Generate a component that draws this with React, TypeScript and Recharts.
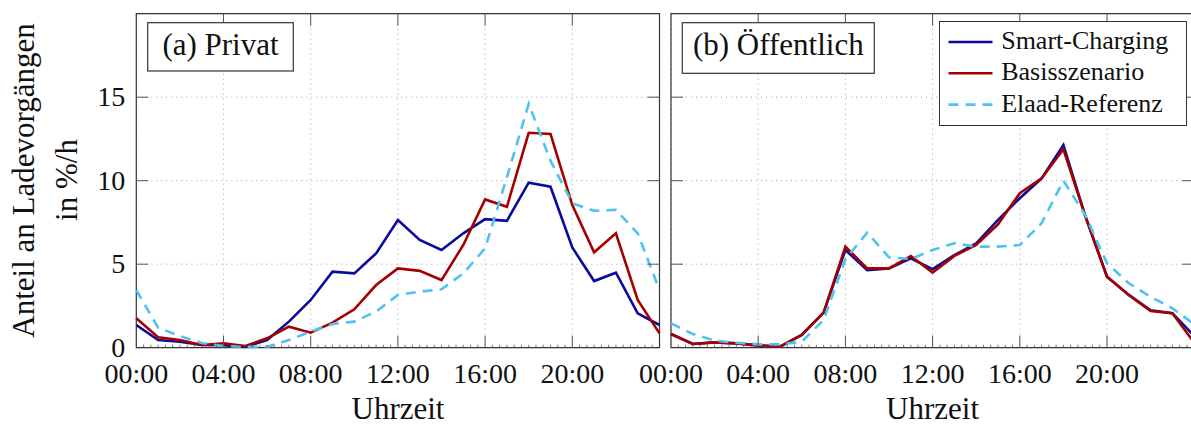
import React from 'react';
import { LineChart, Line, XAxis, YAxis, CartesianGrid, ReferenceArea, Legend } from 'recharts';

// hourly values, 00:00 .. 24:00
const hours = [0, 1, 2, 3, 4, 5, 6, 7, 8, 9, 10, 11, 12, 13, 14, 15, 16, 17, 18, 19, 20, 21, 22, 23, 24];

const smartPrivat = [1.36, 0.46, 0.36, 0.16, 0.15, 0.05, 0.46, 1.56, 2.86, 4.55, 4.45, 5.65, 7.65, 6.45, 5.85, 6.85, 7.7, 7.6, 9.88, 9.64, 6.0, 3.99, 4.49, 2.06, 1.36];
const basisPrivat = [1.76, 0.62, 0.46, 0.16, 0.26, 0.1, 0.56, 1.26, 0.9, 1.5, 2.3, 3.75, 4.75, 4.6, 4.05, 6.15, 8.88, 8.44, 12.87, 12.8, 8.54, 5.71, 6.85, 2.86, 0.86];
const elaadPrivat = [3.45, 1.2, 0.7, 0.28, 0.1, 0.05, 0.05, 0.46, 0.96, 1.42, 1.56, 2.16, 3.16, 3.35, 3.5, 4.45, 5.95, 10.2, 14.6, 11.2, 8.65, 8.2, 8.25, 6.85, 3.45];

const smartOeff = [0.82, 0.22, 0.32, 0.26, 0.14, 0.06, 0.76, 2.1, 5.85, 4.65, 4.75, 5.35, 4.7, 5.55, 6.25, 7.65, 8.95, 10.14, 12.14, 7.9, 4.25, 3.16, 2.24, 2.06, 0.7];
const basisOeff = [0.82, 0.22, 0.32, 0.26, 0.14, 0.06, 0.76, 2.1, 6.05, 4.75, 4.75, 5.49, 4.5, 5.5, 6.15, 7.39, 9.25, 10.14, 11.88, 7.9, 4.25, 3.16, 2.2, 2.06, 0.3];
const elaadOeff = [1.46, 0.82, 0.42, 0.3, 0.2, 0.2, 0.36, 1.66, 5.3, 6.89, 5.41, 5.31, 5.85, 6.25, 6.05, 6.05, 6.15, 7.45, 10.0, 7.95, 5.05, 3.86, 3.05, 2.36, 1.4];

const seriesNames = ['Smart-Charging', 'Basisszenario', 'Elaad-Referenz'];
const xTicks = [0, 4, 8, 12, 16, 20];
const xTickLabels = ['00:00', '04:00', '08:00', '12:00', '16:00', '20:00'];
const yTicks = [0, 5, 10, 15];
// minor ticks every 20 minutes
const xMinorTicks = Array.from({ length: 73 }, (_, i) => i / 3);

const FONT = '"Liberation Serif", "Times New Roman", serif';
const BLUE = '#0b0b9b';
const RED = '#a40000';
const CYAN = '#4fc3f0';
const TICK = '#555';

const PLOT_TOP = 13.7;
const PLOT_BOTTOM = 347.7;
const PLOT_W = 523.2;
const CHART_H = 426;
const X_AXIS_H = 40;

const toRows = (smart: number[], basis: number[], elaad: number[]) =>
  hours.map((h, i) => ({ h, smart: smart[i], basis: basis[i], elaad: elaad[i] }));

const privatData = toRows(smartPrivat, basisPrivat, elaadPrivat);
const oeffData = toRows(smartOeff, basisOeff, elaadOeff);

const isMajor = (v: number) => Math.abs(v / 4 - Math.round(v / 4)) < 1e-6;

function makeXTick(plotLeft: number) {
  return (props: any) => {
    const { x, payload } = props;
    const v = payload.value;
    if (!isMajor(v)) {
      return <line x1={x} x2={x} y1={PLOT_BOTTOM} y2={PLOT_BOTTOM - 3} stroke={TICK} strokeWidth={0.8} />;
    }
    const idx = xTicks.findIndex((t) => Math.abs(t - v) < 1e-6);
    const onBorder = Math.abs(x - plotLeft) < 1 || Math.abs(x - (plotLeft + PLOT_W)) < 1;
    return (
      <g>
        {!onBorder && (
          <>
            <line x1={x} x2={x} y1={PLOT_BOTTOM} y2={PLOT_BOTTOM - 12} stroke={TICK} strokeWidth={1} />
            <line x1={x} x2={x} y1={PLOT_TOP} y2={PLOT_TOP + 12} stroke={TICK} strokeWidth={1} />
          </>
        )}
        {idx >= 0 && (
          <text x={x} y={383} textAnchor="middle" fontFamily={FONT} fontSize={28} fill="#111">
            {xTickLabels[idx]}
          </text>
        )}
      </g>
    );
  };
}

function makeYTick(plotLeft: number, showLabel: boolean) {
  return (props: any) => {
    const { y, payload } = props;
    const v = payload.value;
    return (
      <g>
        {v !== 0 && (
          <>
            <line x1={plotLeft} x2={plotLeft + 12} y1={y} y2={y} stroke={TICK} strokeWidth={1} />
            <line x1={plotLeft + PLOT_W} x2={plotLeft + PLOT_W - 12} y1={y} y2={y} stroke={TICK} strokeWidth={1} />
          </>
        )}
        {showLabel && (
          <text x={plotLeft - 11} y={y + 9} textAnchor="end" fontFamily={FONT} fontSize={28} fill="#111">
            {v}
          </text>
        )}
      </g>
    );
  };
}

function LegendBox(props: any) {
  const items = [...(props.payload || [])].sort(
    (a: any, b: any) => seriesNames.indexOf(a.value) - seriesNames.indexOf(b.value)
  );
  return (
    <div style={{ width: 247.4, height: 105.3, boxSizing: 'border-box', border: '1.2px solid #333', background: '#fff' }}>
      <svg width={245} height={103} style={{ display: 'block' }}>
        {items.map((it: any, i: number) => (
          <g key={it.value}>
            <line
              x1={8.5}
              x2={52.5}
              y1={20 + i * 31.3}
              y2={20 + i * 31.3}
              stroke={it.color}
              strokeWidth={2.6}
              strokeDasharray={it.payload?.strokeDasharray}
            />
            <text x={61.2} y={27 + i * 31.3} fontFamily={FONT} fontSize={26} fill="#111">
              {it.value}
            </text>
          </g>
        ))}
      </svg>
    </div>
  );
}

function Panel({ data, left, width, yAxisW, showYLabels, withLegend }: any) {
  const marginRight = width - yAxisW - PLOT_W;
  return (
    <div style={{ position: 'absolute', left, top: 0 }}>
      <LineChart
        width={width}
        height={CHART_H}
        data={data}
        margin={{ top: PLOT_TOP, right: marginRight, bottom: CHART_H - PLOT_BOTTOM - X_AXIS_H, left: 0 }}
      >
        <CartesianGrid
          stroke="#9a9a9a"
          strokeDasharray="1 4"
          strokeWidth={0.9}
          verticalValues={xTicks}
          horizontalValues={yTicks}
        />
        <XAxis
          dataKey="h"
          type="number"
          domain={[0, 24]}
          ticks={xMinorTicks}
          interval={0}
          height={X_AXIS_H}
          axisLine={false}
          tickLine={false}
          tickSize={0}
          tickMargin={0}
          tick={makeXTick(yAxisW)}
        />
        <YAxis
          type="number"
          domain={[0, 20]}
          ticks={yTicks}
          interval={0}
          width={yAxisW}
          axisLine={false}
          tickLine={false}
          tickSize={0}
          tickMargin={0}
          tick={makeYTick(yAxisW, showYLabels)}
        />
        <Line type="linear" dataKey="smart" name={seriesNames[0]} stroke={BLUE} strokeWidth={2.6} dot={false} isAnimationActive={false} />
        <Line type="linear" dataKey="basis" name={seriesNames[1]} stroke={RED} strokeWidth={2.6} dot={false} isAnimationActive={false} />
        <Line
          type="linear"
          dataKey="elaad"
          name={seriesNames[2]}
          stroke={CYAN}
          strokeWidth={2.6}
          strokeDasharray="10 7"
          dot={false}
          isAnimationActive={false}
        />
        <ReferenceArea x1={0} x2={24} y1={0} y2={20} fill="none" stroke="#333" strokeWidth={1.2} ifOverflow="visible" />
        {withLegend && (
          <Legend
            layout="horizontal"
            verticalAlign="middle"
            align="center"
            content={<LegendBox />}
            wrapperStyle={{ left: 939.3 - left, top: 20.7, width: 247.4, height: 105.3 }}
          />
        )}
      </LineChart>
    </div>
  );
}

export default function App() {
  return (
    <div style={{ position: 'absolute', left: 0, top: 0, width: 1191, height: 426, overflow: 'hidden', background: '#fff' }}>
      <Panel data={privatData} left={0} width={680} yAxisW={136.3} showYLabels={true} withLegend={false} />
      <Panel data={oeffData} left={620} width={600} yAxisW={51} showYLabels={false} withLegend={true} />
      <svg width={1191} height={426} style={{ position: 'absolute', left: 0, top: 0, pointerEvents: 'none' }}>
        <g fontFamily={FONT} fill="#111" fontSize={31}>
          <text transform="translate(33.5,180.5) rotate(-90)" textAnchor="middle">Anteil an Ladevorgängen</text>
          <text transform="translate(76.5,180) rotate(-90)" textAnchor="middle">in %/h</text>
          <text x={398} y={419} textAnchor="middle">Uhrzeit</text>
          <text x={932.6} y={419} textAnchor="middle">Uhrzeit</text>
        </g>
        <rect x={147.7} y={22.7} width={145.6} height={48.3} fill="#fff" stroke="#333" strokeWidth={1.2} />
        <text x={220.5} y={55} textAnchor="middle" fontFamily={FONT} fontSize={31} fill="#111">(a) Privat</text>
        <rect x={682.3} y={22.7} width={192} height={50.6} fill="#fff" stroke="#333" strokeWidth={1.2} />
        <text x={778.3} y={55} textAnchor="middle" fontFamily={FONT} fontSize={31} fill="#111">(b) Öffentlich</text>
      </svg>
    </div>
  );
}
